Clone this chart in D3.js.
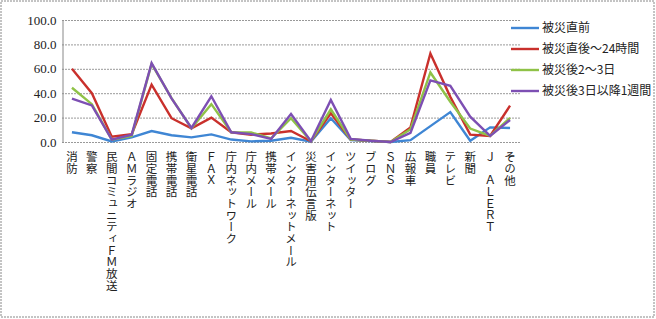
<!DOCTYPE html>
<html>
<head>
<meta charset="utf-8">
<script src="https://cdn.jsdelivr.net/npm/d3@7"></script>
<style>
  body { margin: 0; background: #fff; }
  svg text { font-family: "Liberation Serif", "Noto Sans CJK JP", serif; fill: #222; }
</style>
</head>
<body>
<div id="chart"></div>
<script>
var categories = ["消防", "警察", "民間コミュニティＦＭ放送", "ＡＭラジオ", "固定電話", "携帯電話", "衛星電話",
  "ＦＡＸ", "庁内ネットワーク", "庁内メール", "携帯メール", "インターネットメール", "災害用伝言版",
  "インターネット", "ツイッター", "ブログ", "ＳＮＳ", "広報車", "職員", "テレビ", "新聞", "Ｊ　ＡＬＥＲＴ", "その他"];

var seriesNames = ["被災直前", "被災直後～24時間", "被災後2～3日", "被災後3日以降1週間"];

var before   = [8, 5.5, 0.5, 3.8, 9, 5.5, 3.8, 6.2, 2, 0.5, 1, 3.5, 0.3, 19.5, 1.5, 0.8, 0, 1.5, 13, 24.5, 1, 12, 11.5];
var day1     = [60, 40, 4.3, 6.3, 47, 19.5, 11.2, 20, 8, 6, 7, 9, 0.6, 23.5, 2, 1, 0, 12, 72.5, 37, 6, 5, 29.8];
var day2to3  = [44.5, 31, 2, 5, 64, 36, 11.3, 31, 8, 7.8, 3, 19.5, 0.6, 26.8, 2, 1, 0, 10.5, 57, 33, 11, 5, 19.7];
var week1    = [35.5, 30, 2, 6, 64.6, 35.8, 11.5, 37.5, 8, 6.5, 2.5, 23, 0.6, 34.5, 2.6, 1, 0, 7.5, 50.5, 46, 20.8, 5, 18];

var yTicks = [0, 20, 40, 60, 80, 100];
var colors = ["#3f86d4", "#c9302c", "#8fc247", "#7d4fb3"];

var allSeries = [before, day1, day2to3, week1];

var w = 656, h = 319;
var margin = { left: 62, right: 136, top: 20, bottom: 177 };

var svg = d3.select("#chart").append("svg")
  .attr("width", w)
  .attr("height", h);

// outer frame
svg.append("rect")
  .attr("x", 1).attr("y", 1)
  .attr("width", 653).attr("height", 316)
  .attr("fill", "none")
  .attr("stroke", "#888")
  .attr("stroke-dasharray", "2,1");

var x = d3.scaleBand()
  .domain(categories)
  .range([margin.left, w - margin.right])
  .padding(0);

var y = d3.scaleLinear()
  .domain([0, 100])
  .range([h - margin.bottom, margin.top]);

// gridlines
svg.append("g")
  .selectAll("line")
  .data(yTicks)
  .enter()
  .append("line")
  .attr("x1", margin.left)
  .attr("x2", w - margin.right)
  .attr("y1", function(d) { return y(d) + 0.5; })
  .attr("y2", function(d) { return y(d) + 0.5; })
  .attr("stroke", "#999")
  .attr("stroke-dasharray", "2,1");

// left axis
var yAxis = d3.axisLeft(y)
  .tickValues(yTicks)
  .tickSize(0)
  .tickPadding(6)
  .tickFormat(d3.format(".1f"));

var ga = svg.append("g")
  .attr("transform", "translate(" + (margin.left + 0.5) + ",0)")
  .call(yAxis);
ga.select(".domain").attr("stroke", "#888");
ga.selectAll("text")
  .style("font-size", "13px")
  .style("font-family", "Liberation Serif, serif")
  .attr("fill", "#222");

// lines
var line = d3.line()
  .x(function(d, i) { return x(categories[i]) + x.bandwidth() / 2; })
  .y(function(d) { return y(d); });

svg.append("g")
  .selectAll("path")
  .data(allSeries)
  .enter()
  .append("path")
  .attr("d", line)
  .attr("fill", "none")
  .attr("stroke", function(d, i) { return colors[i]; })
  .attr("stroke-width", 2.4)
  .attr("stroke-linejoin", "miter");

// category labels, vertical
svg.append("g")
  .selectAll("text")
  .data(categories)
  .enter()
  .append("text")
  .attr("x", function(d) { return x(d) + x.bandwidth() / 2; })
  .attr("y", h - margin.bottom + 9)
  .style("writing-mode", "vertical-rl")
  .style("text-orientation", "upright")
  .style("font-family", "Noto Sans CJK JP")
  .style("font-size", "11.5px")
  .style("letter-spacing", "0.2px")
  .attr("fill", "#333")
  .text(function(d) { return d; });

// legend
var legend = svg.append("g")
  .selectAll("g")
  .data(seriesNames)
  .enter()
  .append("g")
  .attr("transform", function(d, i) { return "translate(511," + (28 + i * 21) + ")"; });

legend.append("line")
  .attr("x1", 0).attr("x2", 28)
  .attr("stroke", function(d, i) { return colors[i]; })
  .attr("stroke-width", 2.4);

legend.append("text")
  .attr("x", 31)
  .attr("dy", "0.36em")
  .style("font-family", "Noto Sans CJK JP")
  .style("font-size", "12px")
  .attr("fill", "#333")
  .text(function(d) { return d; });
</script>
</body>
</html>
